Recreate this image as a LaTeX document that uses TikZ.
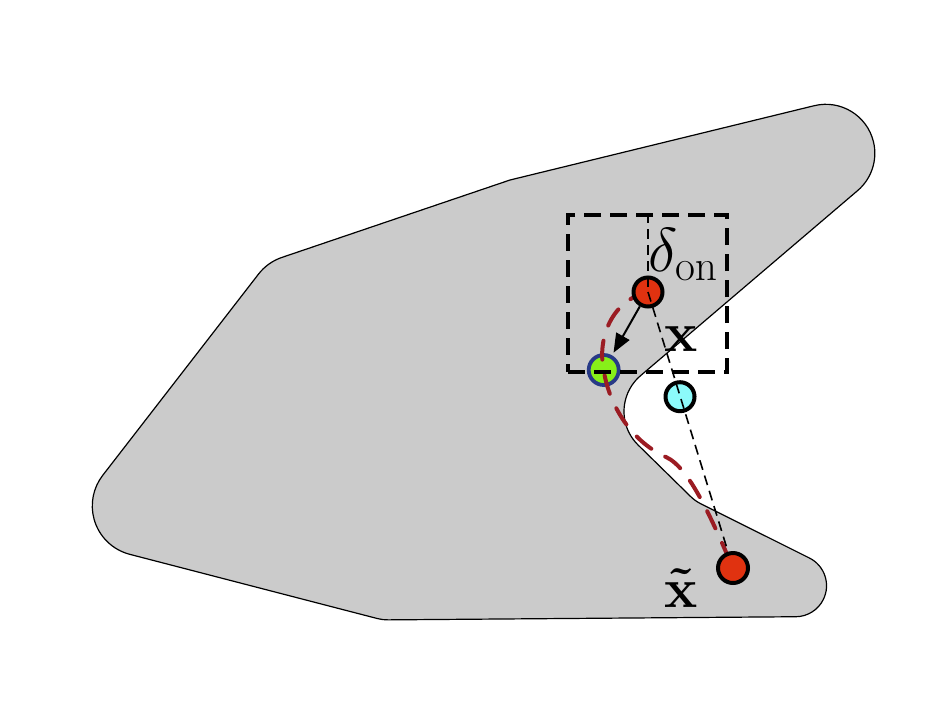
\RequirePackage{fix-cm}
\documentclass[tikz,border=0pt]{standalone}
\usetikzlibrary{arrows.meta,calc}
\definecolor{shapegray}{RGB}{203,203,203}
\definecolor{ptred}{RGB}{224,50,16}
\definecolor{ptcyan}{RGB}{140,250,250}
\definecolor{ptgreen}{RGB}{135,240,25}
\definecolor{ringblue}{RGB}{40,58,135}
\definecolor{pathred}{RGB}{155,28,35}
\begin{document}
\begin{tikzpicture}[x=1pt,y=-1pt,
  region/.style={fill=shapegray, draw=black, line width=1.2pt, line join=round},
  dotpt/.style={circle, draw=black, line width=4pt, minimum size=29pt, inner sep=0pt},
  ringpt/.style={circle, draw=ringblue, fill=ptgreen, line width=3.8pt, minimum size=30pt, inner sep=0pt},
  dbox/.style={draw=black, line width=4pt, dash pattern=on 17pt off 9pt, minimum width=159pt, minimum height=157pt, inner sep=0pt},
  thindash/.style={draw=black, line width=1.6pt, dash pattern=on 10pt off 6pt},
  redcurve/.style={draw=pathred, line width=4pt, line cap=round, dash pattern=on 19pt off 16pt},
  arrowline/.style={draw=black, line width=2pt, -{Triangle[length=19pt,width=15pt]}, shorten >=3pt},
  biglabel/.style={inner sep=0pt, font=\fontsize{62}{70}\selectfont},
  midlabel/.style={inner sep=0pt, font=\fontsize{56}{64}\selectfont}
]
\useasboundingbox (0,0) rectangle (952,705);

% region outline
\path[region] (281.95,257.4) -- (510,180) -- (814.2,105.7)
  arc[start angle=103.73, end angle=-49.54, radius=49pt]
  -- (640.5,375.7)
  arc[start angle=-229.54, end angle=-134.43, radius=47pt]
  -- (690.6,496.5)
  arc[start angle=-134.43, end angle=-116.57, radius=40pt]
  -- (809.4,558)
  arc[start angle=63.43, end angle=-89.55, radius=31pt]
  -- (387.9,619.86)
  arc[start angle=270.45, end angle=255.4, radius=40pt]
  -- (129.7,554.3)
  arc[start angle=255.43, end angle=142.23, radius=50pt]
  -- (258.5,274.1)
  arc[start angle=142.23, end angle=108.73, radius=50pt]
  -- cycle;

% points (lower layer)
\node[ringpt] (gr) at (603.7,370) {};
\node[dotpt, fill=ptcyan] (xpt) at (680,396.7) {};
\coordinate (bend) at (666,457);
\coordinate (xtc) at (733,568);

% red dashed path
\draw[redcurve] (648,292) .. controls (612,300) and (597,338) .. (gr.center)
  .. controls (608,400) and (628,440) .. (bend)
  .. controls (690,468) and (712,520) .. (xtc);

\node[dotpt, fill=ptred] (don) at (648,292) {};

% box
\node[dbox] (box) at (647.5,293.5) {};

% thin dashed lines
\draw[thindash] (box.north -| don.center) -- (don.center);
\draw[thindash] (don.center) -- (xtc);

\node[dotpt, fill=ptred, minimum size=30pt] (xt) at (xtc) {};

% arrow
\draw[arrowline] (don) -- (gr);

% labels
\node[biglabel, anchor=base west] (lbl1) at (648,271) {$\delta_{\mathrm{on}}$};
\node[midlabel, anchor=base] (lbl2) at (681,351.7) {$\mathbf{x}$};
\node[midlabel, anchor=base] (lbl3) at (681.5,607) {$\mathbf{\tilde{x}}$};
\end{tikzpicture}
\end{document}
